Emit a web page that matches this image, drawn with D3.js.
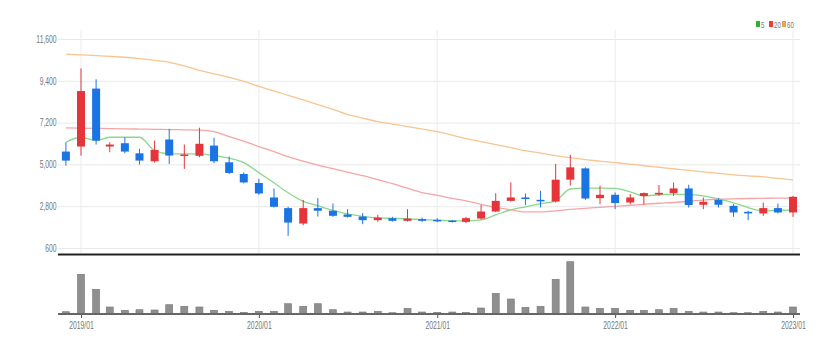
<!DOCTYPE html>
<html>
<head>
<meta charset="utf-8">
<script src="https://cdn.jsdelivr.net/npm/d3@7"></script>
<style>
	body { margin: 0; background: #fff; }
	svg { display: block; }
	.axis text, .legend text { font-family: "Liberation Sans", Arial, sans-serif; font-size: 10px; fill: #767676; }
</style>
</head>
<body>
<div id="idChart"></div>
<script>
// monthly candles, 2018/12 .. 2023/01
var aMonths = ["2018-12","2019-01","2019-02","2019-03","2019-04","2019-05","2019-06","2019-07","2019-08","2019-09","2019-10","2019-11",
	"2019-12","2020-01","2020-02","2020-03","2020-04","2020-05","2020-06","2020-07","2020-08","2020-09","2020-10","2020-11",
	"2020-12","2021-01","2021-02","2021-03","2021-04","2021-05","2021-06","2021-07","2021-08","2021-09","2021-10","2021-11",
	"2021-12","2022-01","2022-02","2022-03","2022-04","2022-05","2022-06","2022-07","2022-08","2022-09","2022-10","2022-11",
	"2022-12","2023-01"];
var aOpen  = [5675,5940,8990,5940,6115,5585,5165,6310,5450,5450,5990,5110,4495,4020,3260,2700,1890,2700,2560,2365,2255,2065,2170,2030,2120,2080,2045,1975,2150,2520,3080,3260,3135,3045,4195,4790,3225,3400,2995,3335,3415,3490,3735,2875,3135,2820,2505,2420,2700,2470];
var aHigh  = [6165,10050,9480,6165,6430,5820,6255,6875,6045,6930,6400,5410,4580,4235,3735,2770,3135,3225,2940,2645,2435,2345,2240,2645,2200,2170,2080,2240,2870,3485,4050,3465,3610,5025,5500,4845,3880,3525,3440,3525,3915,4050,3930,3260,3225,2910,2560,2995,2940,3345];
var aLow   = [4935,5465,6045,5640,5585,4990,5095,5025,4765,5375,5060,4495,4000,3400,2730,1240,1800,2255,2240,2200,1855,1990,1990,1990,1975,1960,1940,1910,2095,2490,3045,2855,2730,2995,3880,3135,2910,2645,2910,2875,3345,3345,2730,2645,2730,2240,2065,2295,2420,2240];
var aClose = [5200,8860,6255,6045,5675,5200,5765,5465,5520,6085,5165,4550,4050,3470,2770,1940,2700,2560,2295,2240,2065,2200,2030,2150,2030,2015,1975,2170,2520,3080,3260,3175,3070,4195,4845,3205,3400,2965,3260,3490,3505,3735,2860,3030,2875,2470,2420,2700,2470,3295];
var aVolume = [23,397,247,70,37,43,40,93,77,70,37,27,17,27,27,103,77,103,43,20,20,27,13,57,20,17,20,17,60,207,150,67,77,347,523,70,57,57,37,37,43,57,27,20,20,13,13,27,20,70];

// moving averages
var aMA5  = [6165,6430,6255,6430,6430,6430,5730,5555,5555,5555,5465,5330,5095,4565,4035,3505,3055,2820,2580,2395,2265,2185,2160,2135,2095,2065,2030,2030,2080,2345,2610,2770,2930,3085,3705,3755,3755,3735,3560,3345,3400,3435,3410,3345,3190,2980,2730,2555,2580,2595];
var aMA20 = [6920,6910,6900,6885,6870,6860,6845,6835,6820,6805,6725,6460,6220,5940,5675,5410,5170,4960,4775,4590,4405,4195,3985,3745,3520,3375,3215,3085,2900,2740,2610,2505,2505,2555,2635,2690,2740,2795,2850,2900,2955,2995,3060,3120,3165,3190,3205,3215,3225,3225];
var aMA60 = [10800,10760,10730,10690,10640,10570,10480,10375,10190,9950,9765,9580,9370,9105,8870,8630,8390,8150,7890,7625,7440,7255,7125,6990,6860,6725,6540,6355,6195,6040,5880,5720,5595,5460,5355,5250,5170,5090,5010,4930,4850,4770,4690,4610,4530,4450,4395,4345,4265,4185];

var aPriceTicks = [600,2800,5000,7200,9400,11600];
var aDateTicks = ["2019-01","2020-01","2021-01","2022-01","2023-01"];
var aLegend = ["5","20","60"];

var iWidth = 836, iHeight = 353;
var iLeft = 58, iRight = 800;
var sUp = "#e5343a", sDown = "#1b74e4";
var aMAColors = ["#8ad98a","#f5a5a5","#f8c491"];
var aLegendColors = ["#2db32d","#ee3a3a","#f3a04a"];
var sNarrow = "scale(0.68,1)";

var fParse = d3.timeParse("%Y-%m");
var fFormat = d3.timeFormat("%Y/%m");

var myData = aMonths.map(function (sMonth, i) {
	return { date: fParse(sMonth), open: aOpen[i], high: aHigh[i], low: aLow[i], close: aClose[i],
		volume: aVolume[i], ma: [aMA5[i], aMA20[i], aMA60[i]] };
});

var x = d3.scaleTime()
	.domain([fParse("2019-01"), fParse("2023-01")])
	.range([81, 793]);
var y = d3.scaleLinear()
	.domain([600, 11600])
	.range([248, 39]);
var yVol = d3.scaleLinear()
	.domain([0, 560])
	.range([314, 258]);

var svg = d3.select("#idChart").append("svg")
	.attr("width", iWidth)
	.attr("height", iHeight);

// horizontal grid + price labels
var gY = svg.append("g")
	.attr("class", "axis")
	.attr("transform", "translate(" + iLeft + ",0)")
	.call(d3.axisLeft(y).tickValues(aPriceTicks).tickFormat(d3.format(",")).tickSize(-(iRight - iLeft)).tickPadding(2));
gY.select(".domain").remove();
gY.selectAll(".tick line").attr("stroke", "#e9e9e9");
gY.selectAll(".tick text").attr("transform", sNarrow);

// vertical grid at years
svg.append("g").selectAll("line")
	.data(aDateTicks)
	.enter().append("line")
		.attr("x1", function (s) { return x(fParse(s)); })
		.attr("x2", function (s) { return x(fParse(s)); })
		.attr("y1", 30)
		.attr("y2", 254)
		.attr("stroke", "#ececec");

// moving average lines
[aMA5, aMA20, aMA60].forEach(function (aMA, k) {
	var line = d3.line()
		.x(function (d) { return x(d.date); })
		.y(function (d) { return y(d.ma[k]); })
		.curve(d3.curveMonotoneX);
	svg.append("path")
		.datum(myData)
		.attr("fill", "none")
		.attr("stroke", aMAColors[k])
		.attr("stroke-width", 1.3)
		.attr("d", line);
});

// candles
var iBody = 8;
var myCandles = svg.append("g").selectAll("g")
	.data(myData)
	.enter().append("g")
		.attr("transform", function (d) { return "translate(" + x(d.date) + ",0)"; });

myCandles.append("line")
	.attr("y1", function (d) { return y(d.high); })
	.attr("y2", function (d) { return y(d.low); })
	.attr("stroke", function (d) { return d.close >= d.open ? sUp : sDown; })
	.attr("stroke-width", 1);

myCandles.append("rect")
	.attr("x", -iBody / 2)
	.attr("width", iBody)
	.attr("y", function (d) { return y(Math.max(d.open, d.close)); })
	.attr("height", function (d) { return Math.max(1.5, Math.abs(y(d.open) - y(d.close))); })
	.attr("fill", function (d) { return d.close >= d.open ? sUp : sDown; });

// separator between price and volume panels
svg.append("line")
	.attr("x1", iLeft).attr("x2", iRight)
	.attr("y1", 254.5).attr("y2", 254.5)
	.attr("stroke", "#222")
	.attr("stroke-width", 2);

// volume bars
svg.append("g").selectAll("rect")
	.data(myData)
	.enter().append("rect")
		.attr("x", function (d) { return x(d.date) - 3.5; })
		.attr("width", 7)
		.attr("y", function (d) { return yVol(d.volume); })
		.attr("height", function (d) { return yVol(0) - yVol(d.volume); })
		.attr("fill", "#8f8f8f")
		.attr("stroke", "#777")
		.attr("stroke-width", 0.6);

// date axis under volume
var gX = svg.append("g")
	.attr("class", "axis")
	.attr("transform", "translate(0,314)")
	.call(d3.axisBottom(x).tickValues(aDateTicks.map(fParse)).tickFormat(fFormat).tickSize(4).tickPadding(4));
gX.select(".domain").remove();
gX.selectAll(".tick line").attr("stroke", "#555");
gX.selectAll(".tick text").attr("transform", sNarrow);
svg.append("line")
	.attr("x1", iLeft).attr("x2", iRight)
	.attr("y1", 314).attr("y2", 314)
	.attr("stroke", "#666")
	.attr("stroke-width", 2);

// legend
var myLegend = svg.append("g")
	.attr("class", "legend")
	.selectAll("g")
	.data(aLegend)
	.enter().append("g")
		.attr("transform", function (s, i) { return "translate(" + [756, 769, 782][i] + ",21)"; });
myLegend.append("rect")
	.attr("width", 4).attr("height", 6)
	.attr("fill", function (s, i) { return aLegendColors[i]; });
myLegend.append("text")
	.attr("x", 5).attr("y", 6.5)
	.attr("transform", "translate(5,0) " + sNarrow + " translate(-5,0)")
	.style("font-size", "9px")
	.text(function (s) { return s; });
</script>
</body>
</html>
